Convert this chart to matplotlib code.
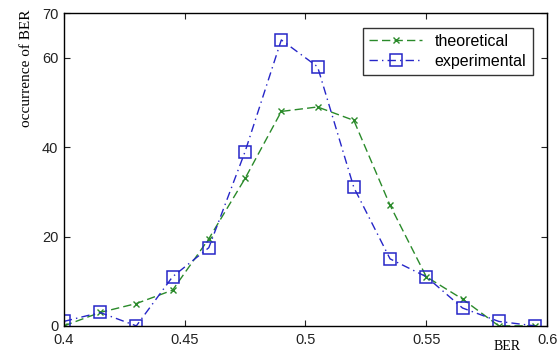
import numpy as np
import matplotlib
matplotlib.use('Agg')
import matplotlib.pyplot as plt

#BER bins and occurrence counts
ber=[0.4,0.415,0.43,0.445,0.46,0.475,0.49,0.505,0.52,0.535,0.55,0.565,0.58,0.595]
theoretical=[0,3,5,8,19.5,33,48,49,46,27,11,6,0,0]
experimental=[1,3,0,11,17.5,39,64,58,31,15,11,4,1,0]

yticks=[0,20,40,60,70]
xticks=[0.4,0.45,0.5,0.55,0.6]

plt.rcParams['font.family']=['Liberation Sans','DejaVu Sans']

fig=plt.figure(figsize=(5.6,3.55),dpi=100)
ax=fig.add_axes([0.114,0.082,0.863,0.881])

ax.plot(ber,theoretical,color='#2a8a2a',linestyle=(0,(6,3)),linewidth=1.0,marker='x',markersize=5,markeredgewidth=1.0,label='theoretical')
ax.plot(ber,experimental,color='#2626c8',linestyle=(0,(6,3,1,3)),linewidth=1.0,marker='s',markersize=8,markerfacecolor='none',markeredgewidth=1.1,label='experimental')

ax.set_xlim(0.4,0.6)
ax.set_ylim(0,70)
ax.set_xticks(xticks)
ax.set_xticklabels(['0.4','0.45','0.5','0.55','0.6'])
ax.set_yticks(yticks)
ax.tick_params(direction='in',top=True,right=True,length=4,labelsize=10.5,colors='#222222')
ax.tick_params(axis='x',pad=5)
ax.tick_params(axis='y',pad=4)
for s in ax.spines.values():
    s.set_linewidth(1.0)

leg=ax.legend(loc='upper right',fontsize=11.5,frameon=True,fancybox=False,edgecolor='black',handlelength=3.3,borderaxespad=0.9,labelspacing=0.3)
leg.get_frame().set_linewidth(1.0)

fig.text(27/560,1-68/355,'occurrence of BER',rotation=90,ha='center',va='center',family='Liberation Serif',fontsize=11)
fig.text(507/560,1-346/355,'BER',ha='center',va='center',family='Liberation Serif',fontsize=10)

fig.savefig('out.png',dpi=100)
